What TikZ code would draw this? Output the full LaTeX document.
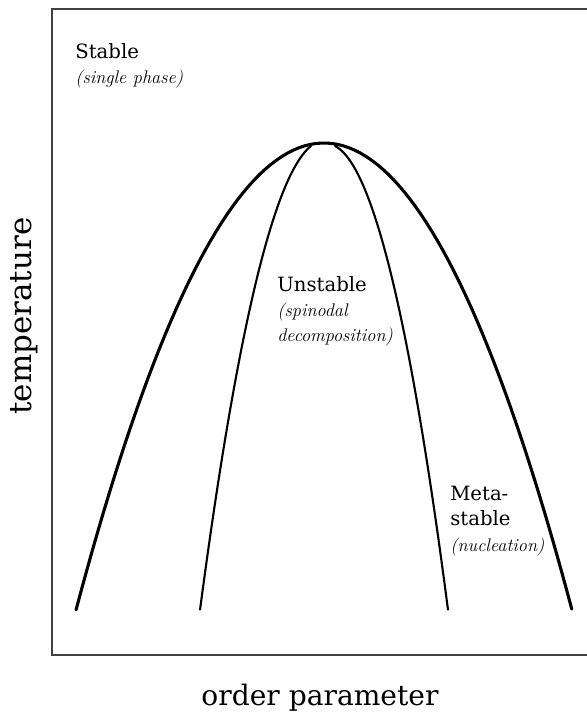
\documentclass[tikz,border=0pt]{standalone}
\usepackage{fontspec}
\newfontfamily\labelfont{DejaVu Serif}
\newcommand\cursivetext{\normalfont\itshape\fontsize{13}{18}\selectfont}
\begin{document}
\begin{tikzpicture}[x=0.025cm, y=-0.025cm, line cap=round,
                    lbl/.style={font=\labelfont\fontsize{14}{18}\selectfont, inner sep=0pt,
                                anchor=north west, align=left},
                    axis/.style={font=\labelfont\fontsize{20}{20}\selectfont, inner sep=0pt, anchor=base},
                    binodal/.style={line width=2.2pt},
                    spinodal/.style={line width=1.5pt}]

% full original canvas
\useasboundingbox (0,0) rectangle (586,717);

% ---- frame (right edge lies off the canvas) ----
\draw[line width=1.7pt, black!75] (595,9) -- (52,9) -- (52,655) -- (595,655);

% ---- coexistence curve ----
\draw[binodal] plot[domain=-1:1, samples=90] ({324+248*\x}, {143+467*\x*\x});

% ---- spinodal curves ----
\draw[spinodal] plot[domain=0:1.11, samples=50] ({311-100*\x}, {146+79.4*\x+305*\x*\x});
\draw[spinodal] plot[domain=0:1.13, samples=50] ({335+100*\x}, {146+50*\x+319*\x*\x});

% ---- region labels ----
\node[lbl] (stable) at (75,43) {Stable\\{\cursivetext (single phase)}};
\node[lbl] (unstable) at (277,276) {Unstable\\{\cursivetext (spinodal}\\{\cursivetext decomposition)}};
\node[lbl] (metastable) at (450,486) {Meta-\\stable\\{\cursivetext (nucleation)}};

% ---- axis labels ----
\node[axis, rotate=90, font=\labelfont\fontsize{22}{22}\selectfont] (temp) at (31,316) {temperature};
\node[axis] (order) at (320,705) {order parameter};

\end{tikzpicture}
\end{document}
